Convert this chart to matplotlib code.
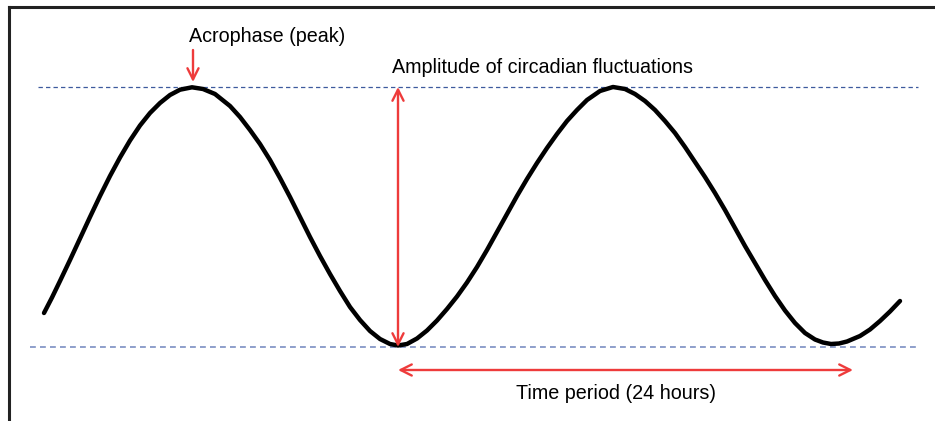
import matplotlib.pyplot as plt

# curve (x to the right, y downwards as in the drawing)
curve_x = [44, 52, 60, 70, 80, 90, 100, 110, 120, 130, 140, 150, 160, 170, 180,
           192, 203, 215, 230, 240, 250, 260, 270, 280, 290, 300, 310, 320, 330,
           340, 350, 360, 370, 380, 390, 398, 407, 417, 427, 437, 447, 457, 467,
           477, 487, 497, 507, 517, 527, 537, 547, 557, 567, 577, 587, 600, 613,
           625, 635, 645, 655, 665, 675, 685, 695, 705, 715, 725, 735, 745, 755,
           765, 775, 785, 795, 805, 815, 823, 831, 839, 847, 860, 870, 880, 890, 900]
curve_y = [313, 297.5, 281, 260, 238.5, 217, 196, 176, 157.5, 140.5, 125.5, 113, 103, 95, 89.7,
           87.3, 89, 94, 106, 117, 130, 144, 160, 178, 197, 217, 237, 256, 274,
           291, 307, 320, 331, 339, 344, 345.5, 344, 338.5, 330.5, 320.5, 309, 296.5, 282.5,
           267, 250, 232, 214, 196, 179, 163, 148, 134, 121, 110, 100, 91, 87,
           89, 94, 101, 110, 121, 133, 147, 162, 177, 193, 210, 228, 246, 263,
           280, 296, 310.5, 323, 333, 339.5, 342.5, 344, 343.5, 341.5, 336, 329.5, 321, 311.5, 301]

peak_level = 87
trough_level = 347
peak_x = 193
trough_x = 398
period_end_x = 853
period_arrow_y = 370

fig = plt.figure(figsize=(9.35, 4.21), dpi=100)
ax = fig.add_axes([9 / 935, 0, 926 / 935, 414 / 421])
ax.set_xlim(9, 935)
ax.set_ylim(421, 7)

for side in ['right', 'bottom']:
    ax.spines[side].set_visible(False)
for side in ['left', 'top']:
    ax.spines[side].set_linewidth(2.2)
    ax.spines[side].set_color('#222222')
ax.set_xticks([])
ax.set_yticks([])

# reference levels
ax.plot([38, 918], [peak_level, peak_level], color='#3d5a9e', lw=0.9,
        dashes=[3.5, 2.5])
ax.plot([30, 918], [trough_level, trough_level], color='#7b8fc2', lw=1.2,
        dashes=[3.5, 2.5])

ax.plot(curve_x, curve_y, color='black', lw=3.2, solid_capstyle='round',
        solid_joinstyle='round')

red = '#ee3b3b'
arrow = dict(arrowstyle='<->', color=red, lw=1.7, mutation_scale=20,
             shrinkA=0, shrinkB=0)
ax.annotate('', xy=(trough_x, peak_level), xytext=(trough_x, trough_level),
            arrowprops=arrow)
ax.annotate('', xy=(trough_x, period_arrow_y), xytext=(period_end_x, period_arrow_y),
            arrowprops=arrow)
ax.annotate('', xy=(peak_x, 82), xytext=(peak_x, 50),
            arrowprops=dict(arrowstyle='->', color=red, lw=1.7, mutation_scale=20,
                            shrinkA=0, shrinkB=0))

font = dict(family='Liberation Sans', fontsize=14.2, color='black')
ax.text(189, 36, 'Acrophase (peak)', ha='left', va='center', **font)
ax.text(392, 67, 'Amplitude of circadian fluctuations', ha='left', va='center', **font)
ax.text(516, 393, 'Time period (24 hours)', ha='left', va='center', **font)

plt.savefig('out.png', dpi=100)
plt.close()
